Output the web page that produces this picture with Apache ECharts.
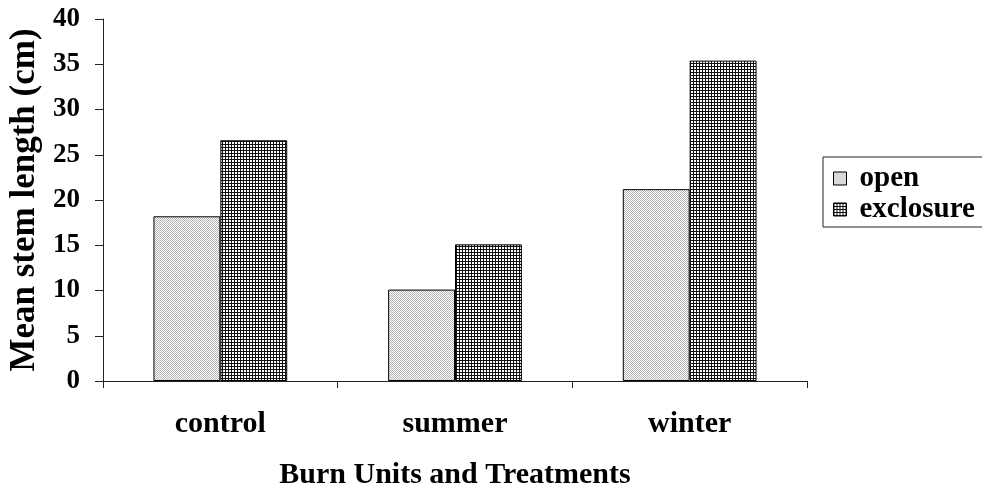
<!DOCTYPE html>
<html><head><meta charset="utf-8">
<script src="https://cdn.jsdelivr.net/npm/echarts@6/dist/echarts.min.js"></script>
<style>html,body{margin:0;padding:0;background:#fff}#c{width:982px;height:493px}</style>
</head><body><div id="c"></div>
<script>
var categories = ['control', 'summer', 'winter'];
var openValues = [18.2, 10.1, 21.2];
var exclosureValues = [26.6, 15.1, 35.4];
var yTicks = [0, 5, 10, 15, 20, 25, 30, 35, 40];

function makePattern(kind) {
  var c = document.createElement('canvas');
  var g;
  if (kind === 'open') {
    c.width = 2; c.height = 2;
    g = c.getContext('2d');
    g.fillStyle = '#ffffff'; g.fillRect(0, 0, 2, 2);
    g.fillStyle = '#b4b4b4'; g.fillRect(0, 0, 1, 1); g.fillRect(1, 1, 1, 1);
  } else {
    c.width = 3; c.height = 3;
    g = c.getContext('2d');
    g.fillStyle = '#ffffff'; g.fillRect(0, 0, 3, 3);
    g.fillStyle = '#111111'; g.fillRect(0, 0, 3, 1); g.fillRect(0, 0, 1, 3);
  }
  return { image: c, repeat: 'repeat' };
}

var font = 'Liberation Serif';
var chart = echarts.init(document.getElementById('c'), null, { renderer: 'canvas' });
chart.setOption({
  animation: false,
  backgroundColor: '#ffffff',
  grid: { left: 103, right: 175, top: 19, bottom: 112, containLabel: false, outerBoundsMode: 'none' },
  legend: {
    orient: 'vertical', left: 823, top: 157,
    padding: [7, 60, 3, 10], itemGap: 2,
    itemWidth: 13, itemHeight: 13,
    borderColor: '#222', borderWidth: 1,
    textStyle: { fontFamily: font, fontWeight: 'bold', fontSize: 29, color: '#000', padding: [0, 0, 0, 8] },
    data: [
      { name: 'open', icon: 'rect', itemStyle: { borderColor: '#000', borderWidth: 1 } },
      { name: 'exclosure', icon: 'rect', itemStyle: { borderColor: '#000', borderWidth: 1 } }
    ]
  },
  xAxis: {
    type: 'category', data: categories,
    axisLine: { lineStyle: { color: '#222', width: 1 } },
    axisTick: { show: true, length: 7, lineStyle: { color: '#222' } },
    axisLabel: { margin: 28, fontFamily: font, fontWeight: 'bold', fontSize: 30, color: '#000' },
    name: 'Burn Units and Treatments', nameLocation: 'middle', nameGap: 79,
    nameTextStyle: { fontFamily: font, fontWeight: 'bold', fontSize: 30, color: '#000' }
  },
  yAxis: {
    type: 'value', min: yTicks[0], max: yTicks[yTicks.length - 1], interval: 5,
    splitLine: { show: false },
    axisLine: { show: true, lineStyle: { color: '#222', width: 1 } },
    axisTick: { show: true, length: 8, lineStyle: { color: '#222' } },
    axisLabel: { margin: 23, fontFamily: font, fontWeight: 'bold', fontSize: 27, color: '#000' },
    name: 'Mean stem length (cm)', nameLocation: 'middle', nameGap: 61,
    nameTextStyle: { fontFamily: font, fontWeight: 'bold', fontSize: 35, color: '#000' }
  },
  series: [
    { name: 'open', type: 'bar', data: openValues, barGap: '0%', barCategoryGap: '43%',
      itemStyle: { color: makePattern('open'), borderColor: '#000', borderWidth: 1 } },
    { name: 'exclosure', type: 'bar', data: exclosureValues, barGap: '0%', barCategoryGap: '43%',
      itemStyle: { color: makePattern('exclosure'), borderColor: '#000', borderWidth: 1 } }
  ]
});
</script></body></html>
